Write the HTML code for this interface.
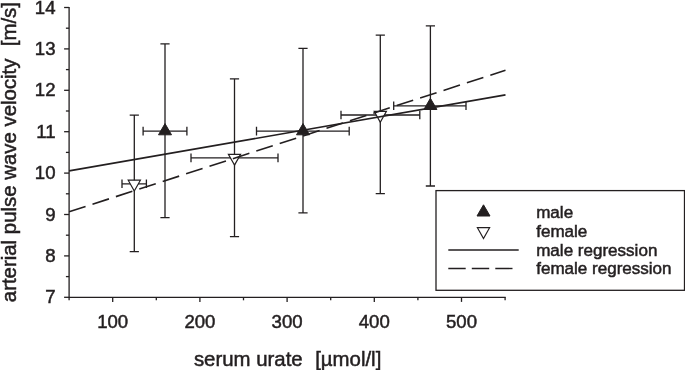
<!DOCTYPE html>
<html><head><meta charset="utf-8"><title>chart</title>
<style>html,body{margin:0;padding:0;background:#fff}svg{display:block}text{font-family:"Liberation Sans",sans-serif;fill:#231f20;stroke:#231f20;stroke-width:0.5px}</style></head><body>
<svg width="685" height="370" viewBox="0 0 685 370">
<rect width="685" height="370" fill="#fff"/>
<g stroke="#231f20" stroke-width="1.3" fill="none">
<path d="M69.1 6.9 V297.3 H505.7"/>
<path d="M69.1 297.3 h-5.0"/>
<path d="M69.1 276.6 h-3.2"/>
<path d="M69.1 255.9 h-5.0"/>
<path d="M69.1 235.2 h-3.2"/>
<path d="M69.1 214.5 h-5.0"/>
<path d="M69.1 193.8 h-3.2"/>
<path d="M69.1 173.1 h-5.0"/>
<path d="M69.1 152.4 h-3.2"/>
<path d="M69.1 131.7 h-5.0"/>
<path d="M69.1 111.0 h-3.2"/>
<path d="M69.1 90.3 h-5.0"/>
<path d="M69.1 69.6 h-3.2"/>
<path d="M69.1 48.9 h-5.0"/>
<path d="M69.1 28.2 h-3.2"/>
<path d="M69.1 7.5 h-5.0"/>
<path d="M69.1 297.3 v3.0"/>
<path d="M112.7 297.3 v4.6"/>
<path d="M156.3 297.3 v3.0"/>
<path d="M199.9 297.3 v4.6"/>
<path d="M243.5 297.3 v3.0"/>
<path d="M287.1 297.3 v4.6"/>
<path d="M330.7 297.3 v3.0"/>
<path d="M374.3 297.3 v4.6"/>
<path d="M417.9 297.3 v3.0"/>
<path d="M461.5 297.3 v4.6"/>
<path d="M505.1 297.3 v3.0"/>
</g>
<text x="55.5" y="303.4" font-size="18.6" text-anchor="end">7</text>
<text x="55.5" y="262.0" font-size="18.6" text-anchor="end">8</text>
<text x="55.5" y="220.6" font-size="18.6" text-anchor="end">9</text>
<text x="55.5" y="179.2" font-size="18.6" text-anchor="end">10</text>
<text x="55.5" y="137.8" font-size="18.6" text-anchor="end">11</text>
<text x="55.5" y="96.4" font-size="18.6" text-anchor="end">12</text>
<text x="55.5" y="55.0" font-size="18.6" text-anchor="end">13</text>
<text x="55.5" y="13.6" font-size="18.6" text-anchor="end">14</text>
<text x="112.7" y="327.6" font-size="18.6" text-anchor="middle">100</text>
<text x="199.9" y="327.6" font-size="18.6" text-anchor="middle">200</text>
<text x="287.1" y="327.6" font-size="18.6" text-anchor="middle">300</text>
<text x="374.3" y="327.6" font-size="18.6" text-anchor="middle">400</text>
<text x="461.5" y="327.6" font-size="18.6" text-anchor="middle">500</text>
<text y="366.1" font-size="20.4"><tspan x="193.9">serum urate</tspan> <tspan x="315.2">[µmol/l]</tspan></text>
<text transform="translate(15.7 302.2) rotate(-90)" font-size="20.4"><tspan x="0">arterial pulse wave velocity</tspan> <tspan x="256">[m/s]</tspan></text>
<g stroke="#231f20" stroke-width="1.3" fill="none">
<path d="M165.0 43.8 V217.6 M160.4 43.8 h9.2 M160.4 217.6 h9.2"/>
<path d="M143.1 131.1 H186.9 M143.1 126.8 v8.6 M186.9 126.8 v8.6"/>
<path d="M303.0 48.4 V212.8 M298.4 48.4 h9.2 M298.4 212.8 h9.2"/>
<path d="M256.5 131.1 H349.2 M256.5 126.8 v8.6 M349.2 126.8 v8.6"/>
<path d="M430.4 25.8 V186.0 M425.8 25.8 h9.2 M425.8 186.0 h9.2"/>
<path d="M393.7 105.8 H466.0 M393.7 101.5 v8.6 M466.0 101.5 v8.6"/>
<path d="M134.3 115.1 V251.7 M129.7 115.1 h9.2 M129.7 251.7 h9.2"/>
<path d="M122.0 183.8 H146.4 M122.0 179.5 v8.6 M146.4 179.5 v8.6"/>
<path d="M234.5 78.9 V236.7 M229.9 78.9 h9.2 M229.9 236.7 h9.2"/>
<path d="M191.0 157.9 H278.0 M191.0 153.6 v8.6 M278.0 153.6 v8.6"/>
<path d="M380.3 35.1 V193.6 M375.7 35.1 h9.2 M375.7 193.6 h9.2"/>
<path d="M341.0 115.0 H419.8 M341.0 110.7 v8.6 M419.8 110.7 v8.6"/>
</g>
<path d="M165.0 123.6 L171.5 134.8 L158.5 134.8 Z" fill="#231f20" stroke="#231f20" stroke-width="1"/>
<path d="M303.0 123.6 L309.5 134.8 L296.5 134.8 Z" fill="#231f20" stroke="#231f20" stroke-width="1"/>
<path d="M430.4 98.3 L436.9 109.5 L423.9 109.5 Z" fill="#231f20" stroke="#231f20" stroke-width="1"/>
<path d="M134.3 191.0 L140.4 180.2 L128.2 180.2 Z" fill="#fff" stroke="#231f20" stroke-width="1.2"/>
<path d="M234.5 165.1 L240.6 154.3 L228.4 154.3 Z" fill="#fff" stroke="#231f20" stroke-width="1.2"/>
<path d="M380.3 122.2 L386.4 111.4 L374.2 111.4 Z" fill="#fff" stroke="#231f20" stroke-width="1.2"/>
<path d="M69.1 170.9 L505.5 94.9" stroke="#231f20" stroke-width="1.6" fill="none"/>
<path d="M69.1 211.8 L505.5 70.3" stroke="#231f20" stroke-width="1.6" fill="none" stroke-dasharray="17.3 7.3"/>
<rect x="436" y="190.6" width="248.5" height="99.7" fill="#fff" stroke="#231f20" stroke-width="1.3"/>
<path d="M483.5 204.8 L490.0 216.0 L477.0 216.0 Z" fill="#231f20" stroke="#231f20" stroke-width="1"/>
<path d="M483.5 238.5 L489.6 227.7 L477.4 227.7 Z" fill="#fff" stroke="#231f20" stroke-width="1.2"/>
<path d="M448.3 250 H518.7" stroke="#231f20" stroke-width="1.4"/>
<path d="M448.3 268.5 H512.5" stroke="#231f20" stroke-width="1.4" stroke-dasharray="17.4 6.1"/>
<text x="536.2" y="217.9" font-size="17.05">male</text>
<text x="536.2" y="236.8" font-size="17.05">female</text>
<text x="536.2" y="255.6" font-size="17.05">male regression</text>
<text x="536.2" y="274.4" font-size="17.05">female regression</text>
</svg></body></html>
